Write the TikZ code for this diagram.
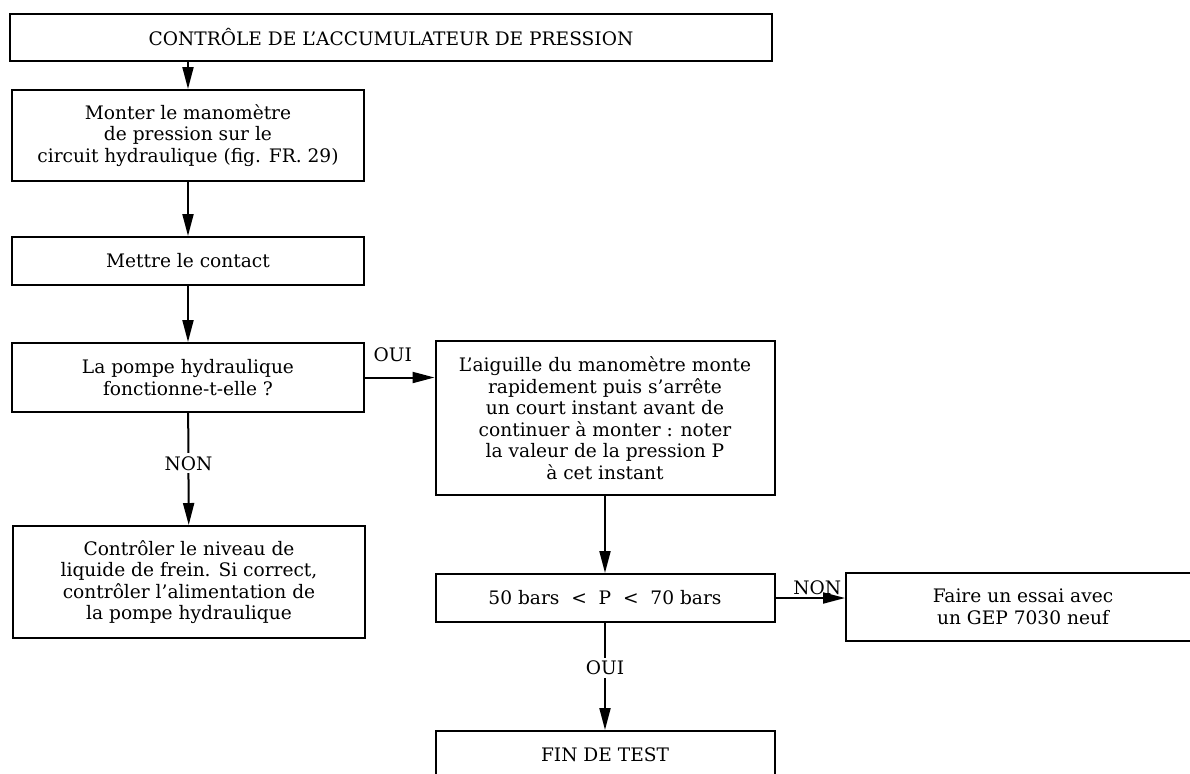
\documentclass[tikz,border=0pt]{standalone}
\usepackage{fontspec}
\setmainfont{DejaVu Serif}
\usetikzlibrary{arrows.meta}

\begin{document}
\begin{tikzpicture}[x=0.5pt,y=-0.5pt,
  every node/.style={font=\fontsize{9.3}{10.75}\selectfont},
  box/.style={draw,line width=1pt,align=center,inner sep=0pt},
  arr/.style={line width=1pt,-{Triangle[length=11pt,width=5.5pt]}},
  lbl/.style={fill=white,inner sep=1.5pt}]
\clip (0,0) rectangle (1190,773);
% left column
\node[box,minimum width=381pt,minimum height=23.5pt] (titre) at (391,37.5) {CONTRÔLE DE L'ACCUMULATEUR DE PRESSION};
\node[box,minimum width=176pt,minimum height=45.5pt] (monter) at (188,135.5) {Monter le manomètre\\de pression sur le\\circuit hydraulique (fig. FR. 29)};
\node[box,minimum width=176pt,minimum height=24pt] (contact) at (188,261) {Mettre le contact};
\node[box,minimum width=176pt,minimum height=34.5pt] (pompe) at (188,377.5) {La pompe hydraulique\\fonctionne-t-elle~?};
\node[box,minimum width=176pt,minimum height=56pt] (niveau) at (189,582) {Contrôler le niveau de\\liquide de frein. Si correct,\\contrôler l'alimentation de\\la pompe hydraulique};
% right column
\node[box,minimum width=169.5pt,minimum height=77pt] (aiguille) at (605,418) {L'aiguille du manomètre monte\\rapidement puis s'arrête\\un court instant avant de\\continuer à monter : noter\\la valeur de la pression P\\à cet instant};
\node[box,minimum width=169.5pt,minimum height=24pt] (bars) at (605,598) {50 bars~~<~~P~~<~~70 bars};
\node[box,minimum width=177pt,minimum height=34pt] (essai) at (1023,607) {Faire un essai avec\\un GEP 7030 neuf};
\node[box,minimum width=169.5pt,minimum height=24pt] (fin) at (605,755) {FIN DE TEST};
% arrows
\draw[arr] (titre.south -| monter.north) -- (monter.north);
\draw[arr] (monter) -- (contact);
\draw[arr] (contact) -- (pompe);
\draw[arr] (pompe) -- node[lbl,pos=0.45] {NON} (niveau);
\draw[arr] (pompe.east) -- node[above=4pt,pos=0.4] {OUI} (pompe.east -| aiguille.west);
\draw[arr] (aiguille) -- (bars);
\draw[arr] (bars.east) -- node[above,pos=0.6,inner sep=1pt] {NON} (bars.east -| essai.west);
\draw[arr] (bars) -- node[lbl,pos=0.42] {OUI} (fin);
\end{tikzpicture}
\end{document}
